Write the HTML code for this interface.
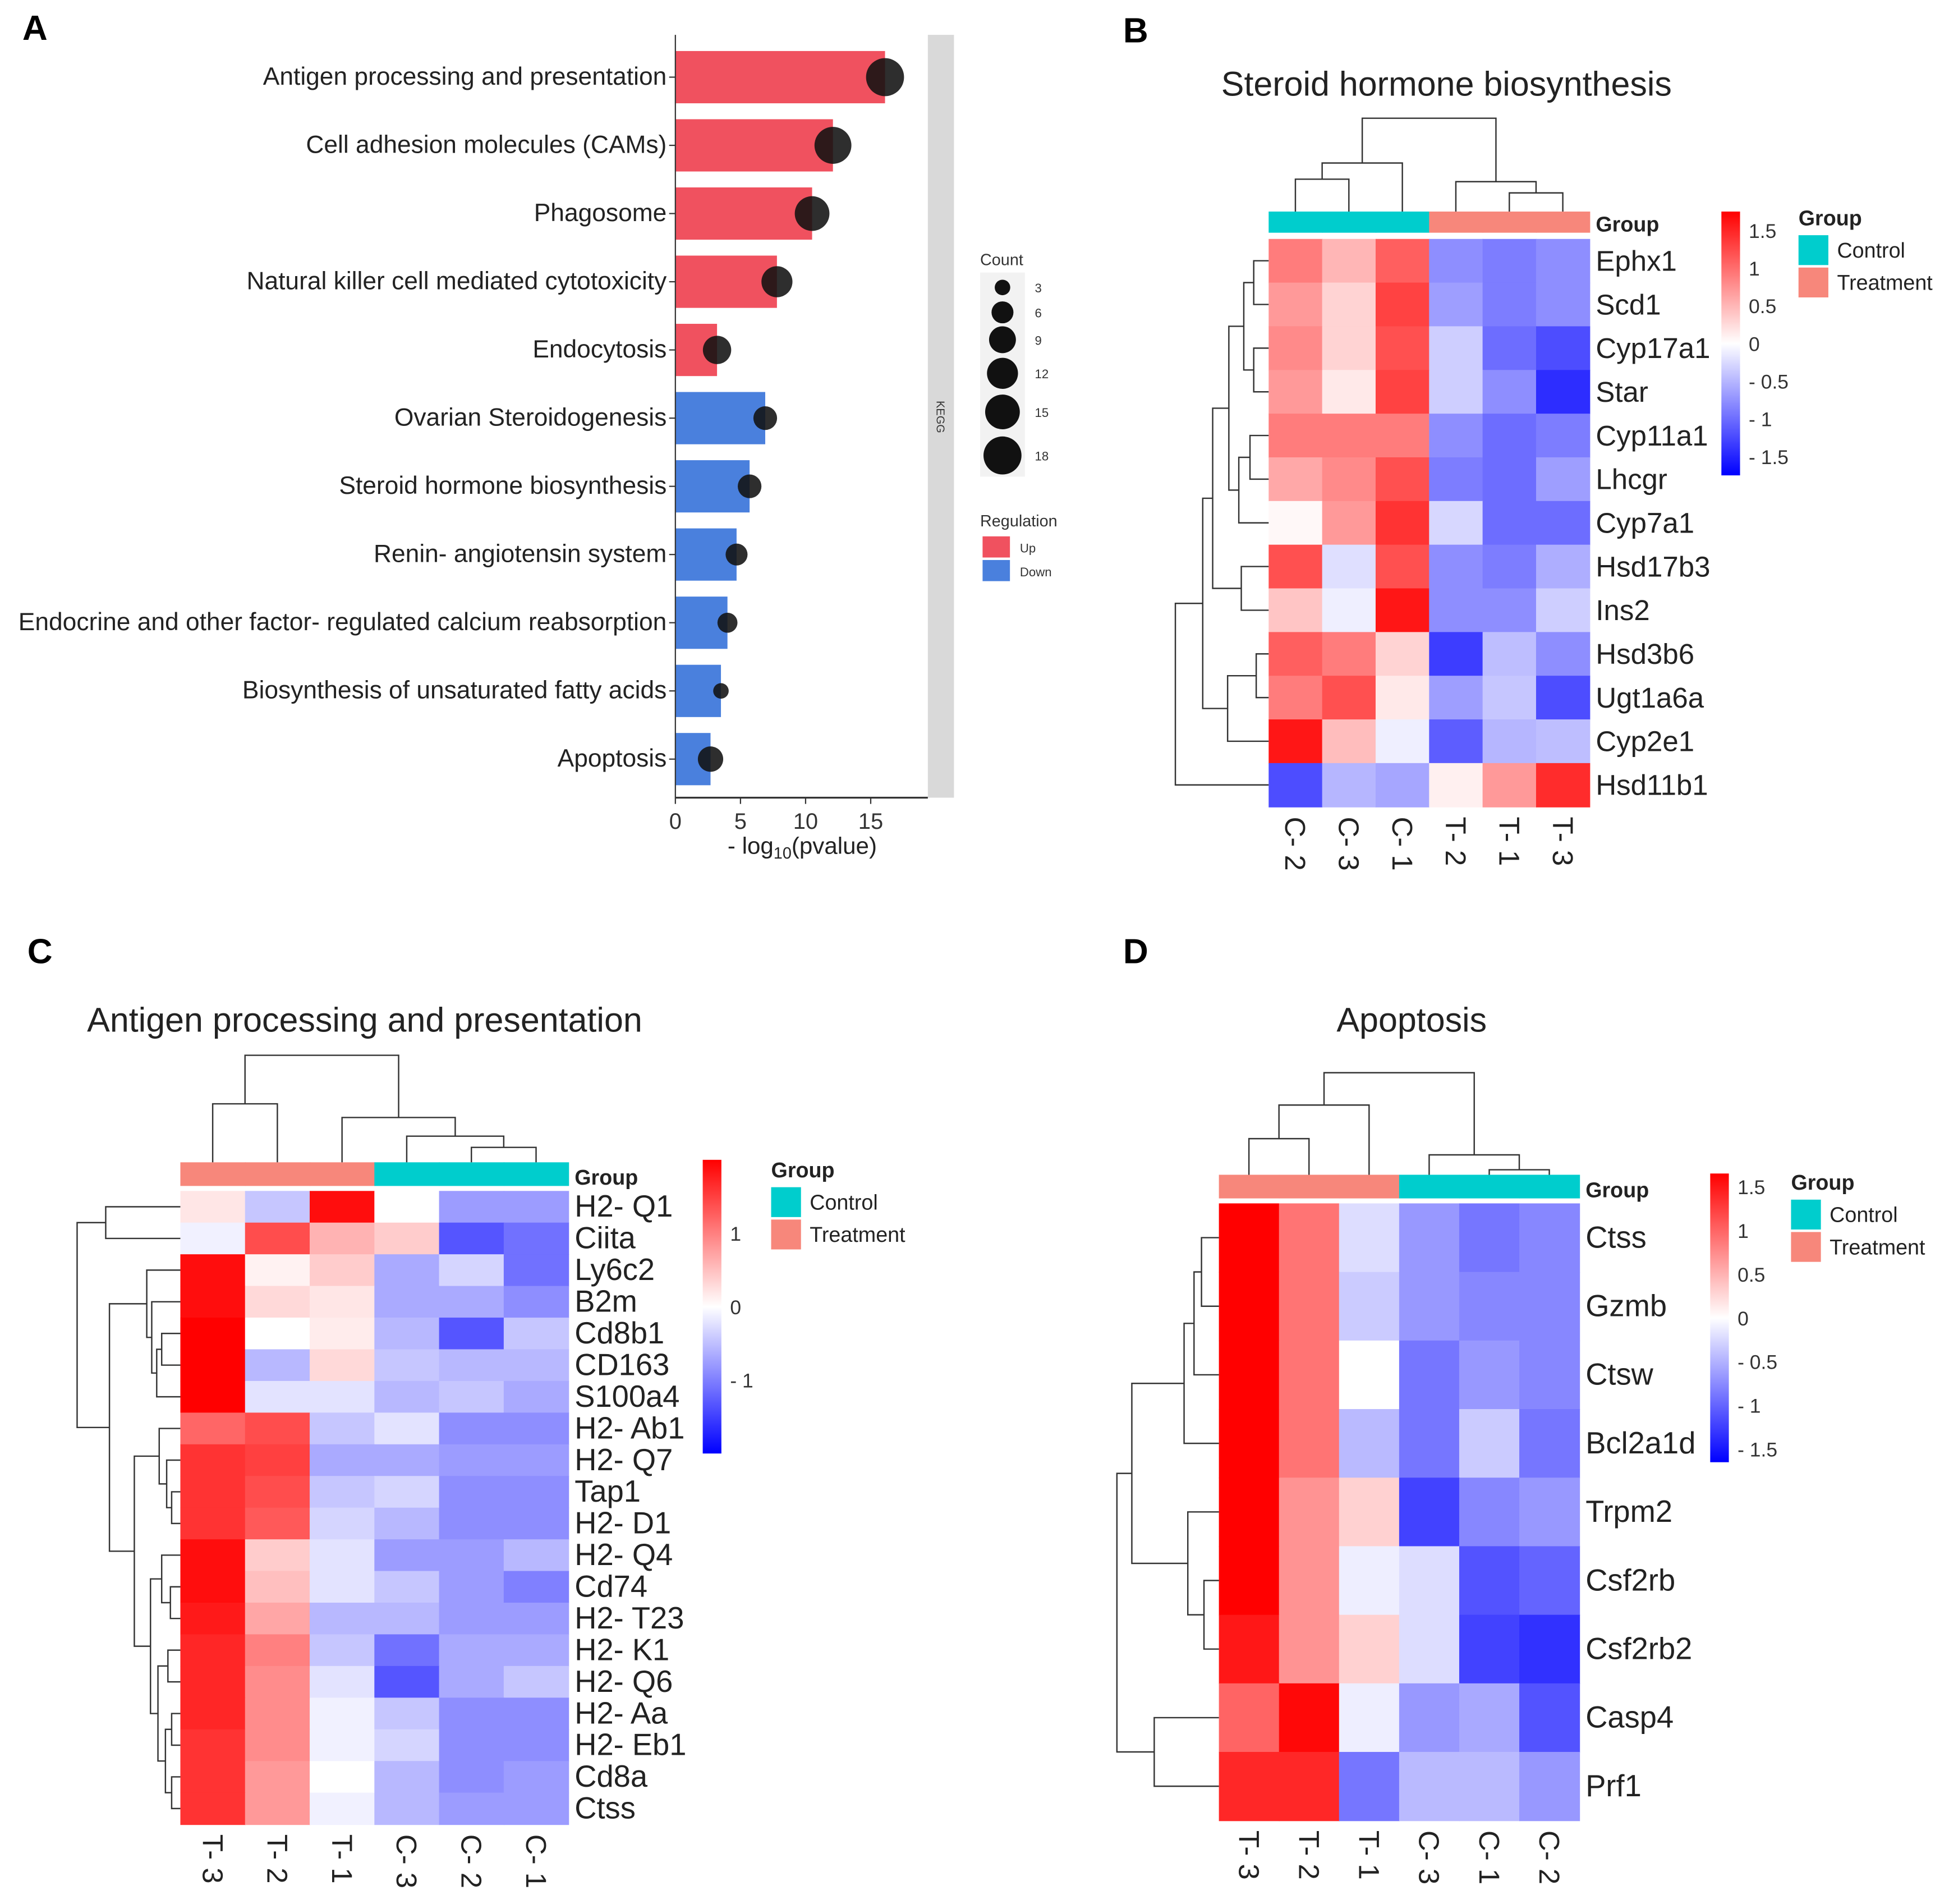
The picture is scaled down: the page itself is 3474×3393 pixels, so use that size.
<!DOCTYPE html>
<html><head><meta charset="utf-8"><style>
html,body{margin:0;padding:0;background:#fff}
svg{display:block}
text{font-family:"Liberation Sans",Arial,sans-serif}
</style></head><body>
<svg id="fig" width="3474" height="3393" viewBox="0 0 1567 1530" preserveAspectRatio="none" xmlns="http://www.w3.org/2000/svg">
<rect width="1567" height="1530" fill="#fff"/>
<g font-family="Liberation Serif, serif" font-weight="bold" font-size="28">
<text x="18" y="32">A</text>
<text x="903" y="34">B</text>
<text x="22" y="774">C</text>
<text x="903" y="774">D</text>
</g>
<g id="pa"></g>
<g id="pb"></g>
<g id="pc"></g>
<g id="pd"></g>
</svg>
<script>
// ---------- Panel A data ----------
const aTerms = ["Antigen processing and presentation","Cell adhesion molecules (CAMs)","Phagosome","Natural killer cell mediated cytotoxicity","Endocytosis","Ovarian Steroidogenesis","Steroid hormone biosynthesis","Renin- angiotensin system","Endocrine and other factor- regulated calcium reabsorption","Biosynthesis of unsaturated fatty acids","Apoptosis"];
const aValues = [16.1,12.1,10.5,7.8,3.2,6.9,5.7,4.7,4.0,3.5,2.7];
const aCounts = [18,17,15,12,10,7,7,6,5,3,8];
const aRegulation = ["Up","Up","Up","Up","Up","Down","Down","Down","Down","Down","Down"];
const aTicks = [0,5,10,15];
const legendCounts = [3,6,9,12,15,18];

// ---------- Panel B data ----------
const bRows = ["Ephx1","Scd1","Cyp17a1","Star","Cyp11a1","Lhcgr","Cyp7a1","Hsd17b3","Ins2","Hsd3b6","Ugt1a6a","Cyp2e1","Hsd11b1"];
const bCols = ["C- 2","C- 3","C- 1","T- 2","T- 1","T- 3"];
const bGroups = ["C","C","C","T","T","T"];
const bValues = [
[0.9,0.5,1.1,-0.7,-0.8,-0.7],
[0.7,0.3,1.3,-0.6,-0.8,-0.7],
[0.8,0.3,1.2,-0.3,-0.9,-1.1],
[0.7,0.15,1.3,-0.3,-0.7,-1.3],
[0.9,0.9,0.9,-0.7,-0.9,-0.8],
[0.6,0.8,1.2,-0.8,-0.9,-0.6],
[0.05,0.7,1.4,-0.25,-0.9,-0.9],
[1.2,-0.2,1.2,-0.7,-0.8,-0.5],
[0.4,-0.1,1.6,-0.7,-0.7,-0.3],
[1.1,0.9,0.3,-1.2,-0.4,-0.7],
[0.9,1.2,0.15,-0.6,-0.35,-1.1],
[1.6,0.45,-0.1,-1.0,-0.45,-0.4],
[-1.1,-0.45,-0.55,0.1,0.7,1.45]];
const bTicks = [1.5,1,0.5,0,-0.5,-1,-1.5];

// ---------- Panel C data ----------
const cRows = ["H2- Q1","Ciita","Ly6c2","B2m","Cd8b1","CD163","S100a4","H2- Ab1","H2- Q7","Tap1","H2- D1","H2- Q4","Cd74","H2- T23","H2- K1","H2- Q6","H2- Aa","H2- Eb1","Cd8a","Ctss"];
const cCols = ["T- 3","T- 2","T- 1","C- 3","C- 2","C- 1"];
const cGroups = ["T","T","T","C","C","C"];
const cValues = [
[0.2,-0.4,1.9,0.0,-0.7,-0.7],
[-0.1,1.4,0.6,0.4,-1.2,-1.0],
[1.9,0.1,0.4,-0.6,-0.3,-1.0],
[1.9,0.3,0.2,-0.6,-0.6,-0.8],
[2.0,0.0,0.15,-0.5,-1.2,-0.4],
[2.0,-0.5,0.3,-0.4,-0.5,-0.5],
[2.0,-0.2,-0.2,-0.5,-0.4,-0.6],
[1.2,1.4,-0.4,-0.2,-0.8,-0.8],
[1.6,1.5,-0.6,-0.6,-0.7,-0.7],
[1.6,1.4,-0.4,-0.3,-0.8,-0.8],
[1.6,1.3,-0.3,-0.5,-0.8,-0.8],
[1.9,0.4,-0.2,-0.7,-0.7,-0.5],
[1.9,0.5,-0.2,-0.4,-0.7,-0.9],
[1.8,0.7,-0.5,-0.5,-0.7,-0.7],
[1.7,1.0,-0.4,-1.0,-0.6,-0.6],
[1.7,0.9,-0.2,-1.2,-0.6,-0.4],
[1.7,0.9,-0.1,-0.4,-0.8,-0.8],
[1.6,0.9,-0.1,-0.3,-0.8,-0.8],
[1.6,0.8,0.0,-0.5,-0.8,-0.7],
[1.6,0.8,-0.1,-0.5,-0.7,-0.7]];
const cTicks = [1,0,-1];

// ---------- Panel D data ----------
const dRows = ["Ctss","Gzmb","Ctsw","Bcl2a1d","Trpm2","Csf2rb","Csf2rb2","Casp4","Prf1"];
const dCols = ["T- 3","T- 2","T- 1","C- 3","C- 1","C- 2"];
const dGroups = ["T","T","T","C","C","C"];
const dValues = [
[1.7,0.9,-0.2,-0.6,-0.8,-0.7],
[1.7,0.9,-0.3,-0.6,-0.7,-0.7],
[1.7,0.9,0.0,-0.8,-0.6,-0.7],
[1.7,0.9,-0.4,-0.8,-0.3,-0.8],
[1.7,0.7,0.3,-1.1,-0.7,-0.6],
[1.8,0.7,-0.1,-0.2,-1.0,-0.9],
[1.5,0.7,0.3,-0.2,-1.1,-1.2],
[1.0,1.6,-0.1,-0.6,-0.5,-1.0],
[1.4,1.4,-0.8,-0.4,-0.4,-0.6]];
const dTicks = [1.5,1,0.5,0,-0.5,-1,-1.5];

const NS="http://www.w3.org/2000/svg";
function mk(parent,tag,attrs,txt){const e=document.createElementNS(NS,tag);for(const k in attrs)e.setAttribute(k,attrs[k]);if(txt!==undefined)e.textContent=txt;parent.appendChild(e);return e;}

// ---------- Panel A ----------
(function(){
const g=document.getElementById('pa');
const x0=543, ppu=10.47, rowY0=62, rowStep=54.8, barH=42;
const xs=v=>x0+v*ppu;
const plotTop=28, plotBot=641;
for(let i=0;i<aTerms.length;i++){
  const y=rowY0+i*rowStep;
  const b=mk(g,'rect',{x:x0,y:y-barH/2,width:xs(aValues[i])-x0,height:barH,fill:aRegulation[i]==='Up'?'#f0515f':'#4a80dd'});
  
  
  const r=Math.sqrt(aCounts[i])*3.6;
  const c=mk(g,'circle',{cx:xs(aValues[i]),cy:y,r:r,fill:'#111','fill-opacity':0.88});
  
  
  const t=mk(g,'text',{x:536,y:y+6,'text-anchor':'end','font-size':20,fill:'#222'},aTerms[i]);
  
  
  mk(g,'line',{x1:538,x2:543,y1:y,y2:y,stroke:'#333','stroke-width':1});
}
mk(g,'line',{x1:x0,x2:x0,y1:plotTop,y2:plotBot,stroke:'#333','stroke-width':1});
mk(g,'line',{x1:x0,x2:746,y1:plotBot,y2:plotBot,stroke:'#333','stroke-width':1.5});
const strip=mk(g,'rect',{x:746,y:plotTop,width:21,height:plotBot-plotTop,fill:'#d9d9d9'});


mk(g,'text',{x:0,y:0,'font-size':9,fill:'#333',transform:'translate(753,335) rotate(90)','text-anchor':'middle'},'KEGG');
aTicks.forEach(t=>{
  mk(g,'line',{x1:xs(t),x2:xs(t),y1:plotBot,y2:plotBot+5,stroke:'#333'});
  const tl=mk(g,'text',{x:xs(t),y:666,'text-anchor':'middle','font-size':18,fill:'#333'},String(t));
  
  
});
const xt=mk(g,'text',{x:645,y:686,'text-anchor':'middle','font-size':19,fill:'#222'});


xt.innerHTML='- log<tspan font-size="13" dy="4">10</tspan><tspan dy="-4">(pvalue)</tspan>';
const lc=mk(g,'text',{x:788,y:213,'font-size':13,fill:'#333'},'Count');


mk(g,'rect',{x:788,y:219,width:36,height:164,fill:'#f2f2f2'});
const ly=[231,251,273,300,331,366];
legendCounts.forEach((n,i)=>{
  const c=mk(g,'circle',{cx:806,cy:ly[i],r:Math.sqrt(n)*3.6,fill:'#111'});
  
  
  mk(g,'text',{x:832,y:ly[i]+4,'font-size':10,fill:'#333'},String(n));
});
const lr=mk(g,'text',{x:788,y:423,'font-size':13,fill:'#333'},'Regulation');


mk(g,'rect',{x:790,y:431,width:22,height:17,fill:'#f0515f'});
mk(g,'rect',{x:790,y:450,width:22,height:17,fill:'#4a80dd'});
const up=mk(g,'text',{x:820,y:444,'font-size':10,fill:'#333'},'Up');


const dn=mk(g,'text',{x:820,y:463,'font-size':10,fill:'#333'},'Down');


})();

// ---------- Heatmap helpers ----------
function colLin(v,max){
  let t=Math.max(-1,Math.min(1,v/max));
  if(t>=0){const k=Math.round(255*(1-t));return `rgb(255,${k},${k})`;}
  const k=Math.round(255*(1+t));return `rgb(${k},${k},255)`;
}
function col(v,max){
  return v<0 ? colLin(v,max*0.9) : colLin(v,max);
}
function tree(g,node,isCol,leafPos,base){
  if(typeof node==='number') return [leafPos(node),base];
  const a=tree(g,node[0],isCol,leafPos,base), b=tree(g,node[1],isCol,leafPos,base), h=node[2];
  const st={stroke:'#333','stroke-width':1.1,fill:'none'};
  if(isCol){
    mk(g,'path',Object.assign({d:`M${a[0]},${a[1]}V${h}H${b[0]}V${b[1]}`},st));
  } else {
    mk(g,'path',Object.assign({d:`M${a[1]},${a[0]}H${h}V${b[0]}H${b[1]}`},st));
  }
  return [(a[0]+b[0])/2,h];
}
function heat(cfg){
  const g=document.getElementById(cfg.id);
  const {x0,y0,cw,ch,rows,cols,vals,max,groups}=cfg;
  const t=mk(g,'text',{x:cfg.titleX,y:cfg.titleY,'text-anchor':cfg.titleAnchor||'middle','font-size':27.5,fill:'#222'},cfg.title);
  
  
  rows.forEach((r,i)=>{
    cols.forEach((c,j)=>{
      const cell=mk(g,'rect',{x:x0+j*cw,y:y0+i*ch,width:cw+0.5,height:ch+0.5,fill:col(vals[i][j],max)});
      
      
    });
    const rl=mk(g,'text',{x:x0+6*cw+5,y:y0+i*ch+ch/2+8,'font-size':cfg.fs,fill:'#222'},r);
    
    
  });
  cols.forEach((c,j)=>{
    const cx=x0+j*cw+cw/2;
    const gb=mk(g,'rect',{x:x0+j*cw,y:cfg.gy,width:cw+0.5,height:cfg.gh,fill:groups[j]==='C'?'#00cdcd':'#f7877b'});
    
    
    const cl=mk(g,'text',{x:0,y:0,'font-size':23,fill:'#222',transform:`translate(${cx-8},${y0+rows.length*ch+8}) rotate(90)`},c);
    
    
  });
  const gl=mk(g,'text',{x:x0+6*cw+5,y:cfg.gy+cfg.gh-1,'font-size':17,'font-weight':'bold',fill:'#222'},'Group');
  
  
  tree(g,cfg.colTree,true,j=>x0+j*cw+cw/2,cfg.gy);
  tree(g,cfg.rowTree,false,i=>y0+i*ch+ch/2,x0);
  const gid='grad'+cfg.id;
  const defs=mk(g,'defs',{});
  const lg=mk(defs,'linearGradient',{id:gid,x1:0,y1:0,x2:0,y2:1});
  for(let s=0;s<=10;s++){const v=max-2*max*s/10;mk(lg,'stop',{offset:s/10,'stop-color':colLin(v,max)});}
  const cb=mk(g,'rect',{x:cfg.cbx,y:cfg.cby,width:15,height:cfg.cbh,fill:`url(#${gid})`});
  
  
  const zeroY=cfg.cby+cfg.cbh/2, ppu=cfg.cbh/2/max;
  cfg.ticks.forEach(v=>{
    const lbl=v<0?'- '+Math.abs(v):String(v);
    const tl=mk(g,'text',{x:cfg.cbx+22,y:zeroY-v*ppu+6,'font-size':16,fill:'#333'},lbl);
    
    
  });
  const lx=cfg.lx, lyy=cfg.ly;
  const lt=mk(g,'text',{x:lx,y:lyy,'font-size':17,'font-weight':'bold',fill:'#222'},'Group');
  
  
  mk(g,'rect',{x:lx,y:lyy+8,width:24,height:24,fill:'#00cdcd'});
  mk(g,'rect',{x:lx,y:lyy+34,width:24,height:24,fill:'#f7877b'});
  const l1=mk(g,'text',{x:lx+31,y:lyy+26,'font-size':17,fill:'#222'},'Control');
  
  
  const l2=mk(g,'text',{x:lx+31,y:lyy+52,'font-size':17,fill:'#222'},'Treatment');
  
  
}

heat({id:'pb',x0:1020,y0:192,cw:43,ch:35.1,rows:bRows,cols:bCols,vals:bValues,max:1.75,groups:bGroups,fs:23,
  gy:170,gh:17,title:'Steroid hormone biosynthesis',titleX:1163,titleY:77,
  colTree:[[[0,1,144],2,131],[3,[4,5,155],146],95],
  rowTree:[[[[[[0,1,1008],[2,3,1008],1000],[[4,5,1005],6,996],988],[7,8,998],975],[[9,10,1010],11,987],967],12,945],
  cbx:1384,cby:170,cbh:212,ticks:bTicks,lx:1446,ly:181});

heat({id:'pc',x0:145,y0:957,cw:52,ch:25.45,rows:cRows,cols:cCols,vals:cValues,max:2.0,groups:cGroups,fs:24.5,
  gy:934,gh:19,title:'Antigen processing and presentation',titleX:70,titleY:829,titleAnchor:'start',
  colTree:[[0,1,887],[2,[3,[4,5,922],913],898],848],
  rowTree:[[0,1,85],[[2,[3,[[4,5,130],6,126],122],118],[[7,[8,[9,10,138],134],128],[[11,[12,13,137],130],[[14,15,135],[[16,17,138],[18,19,138],133],127],121],108],88],62],
  cbx:565,cby:932,cbh:236,ticks:cTicks,lx:620,ly:946});

heat({id:'pd',x0:980,y0:967,cw:48.3,ch:55.1,rows:dRows,cols:dCols,vals:dValues,max:1.65,groups:dGroups,fs:24.5,
  gy:944,gh:19,title:'Apoptosis',titleX:1135,titleY:829,
  colTree:[[[0,1,915],2,888],[3,[4,5,940],928],862],
  rowTree:[[[[[0,1,966],2,960],3,952],[4,[5,6,968],955],910],[7,8,928],898],
  cbx:1375,cby:943,cbh:232,ticks:dTicks,lx:1440,ly:956});
</script>
</body></html>
